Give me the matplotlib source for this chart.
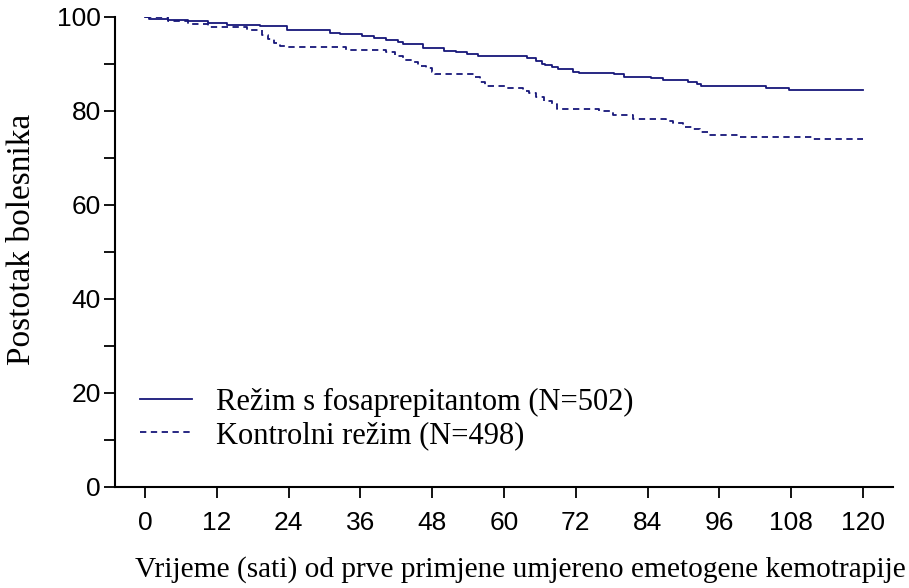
import matplotlib
matplotlib.use("Agg")
import matplotlib.pyplot as plt

# ---- data ----
t_fos = [0, 0.6, 3.9, 7.2, 10.5, 13.7, 19.2, 23.7, 31, 32.6, 36.3, 38.2, 40.2, 42.3, 43.2,
         46.5, 49.9, 51.9, 53.9, 55.7, 63.9, 65.3, 66.4, 66.9, 68.1, 69.1, 71.6, 72.5, 78.3,
         80, 84.5, 86.5, 90.7, 92.3, 92.9, 103.8, 107.6, 120]
s_fos = [100, 99.5, 99.3, 99.1, 98.8, 98.4, 98.0, 97.2, 96.7, 96.4, 95.9, 95.5, 95.2, 94.7, 94.2,
         93.3, 92.8, 92.5, 92.1, 91.6, 91.2, 90.7, 90.1, 89.7, 89.3, 88.9, 88.4, 88.1, 87.8,
         87.3, 87.0, 86.5, 86.2, 85.7, 85.4, 85.0, 84.5, 84.5]

t_ctl = [0, 3.9, 7.2, 10.5, 17, 19.5, 20.5, 21.5, 22.5, 23.7, 33.6, 40.2, 41.8, 43.2, 44.9,
         45.7, 47, 47.9, 48.5, 55, 56, 56.9, 60.2, 63.1, 64.2, 65.3, 66.7, 68.1, 68.9, 75.9,
         78.2, 81.5, 87.1, 88.2, 89.9, 91.6, 92.7, 94.1, 99.1, 111.6, 120]
s_ctl = [100, 99.1, 98.6, 97.8, 97.3, 96.2, 95.3, 94.5, 93.9, 93.6, 93.0, 92.6, 91.6, 90.9, 90.4,
         89.6, 89.2, 88.4, 87.9, 87.3, 86.2, 85.4, 84.8, 84.3, 83.8, 83.0, 82.2, 81.5, 80.4, 79.9,
         79.1, 78.4, 77.9, 77.4, 76.7, 76.1, 75.6, 74.9, 74.4, 74.0, 74.0]

labels = ["Režim s fosaprepitantom (N=502)", "Kontrolni režim (N=498)"]
x_ticks = list(range(0, 121, 12))
y_ticks = [0, 20, 40, 60, 80, 100]
y_minor = [10, 30, 50, 70, 90]
xlabel = "Vrijeme (sati) od prve primjene umjereno emetogene kemotrapije"
ylabel = "Postotak bolesnika"

navy = "#17177a"

fig = plt.figure(figsize=(9.09, 5.88), dpi=100)
W, H = 909, 588
ax = fig.add_axes([115 / W, (H - 487) / H, 778 / W, 470 / H])

ax.step(t_fos, s_fos, where="post", color=navy, lw=1.3, label=labels[0])
ax.step(t_ctl, s_ctl, where="post", color=navy, lw=1.3, dashes=(3.5, 2.5), label=labels[1])

ax.set_xlim(-5, 125)
ax.set_ylim(0, 100)
for s in ["top", "right"]:
    ax.spines[s].set_visible(False)
for s in ["left", "bottom"]:
    ax.spines[s].set_linewidth(1.5)

ax.set_xticks(x_ticks)
ax.set_yticks(y_ticks)
ax.set_yticks(y_minor, minor=True)
ax.tick_params(axis="both", which="both", direction="out", length=8, width=1.3,
               labelsize=19)
ax.tick_params(axis="y", pad=2)
ax.tick_params(axis="x", pad=9)
for lab in ax.get_xticklabels() + ax.get_yticklabels():
    lab.set_fontfamily("Liberation Sans")

fig.text(22 / W, 1 - 239 / H, ylabel, rotation=90, ha="center", va="center",
         fontsize=24, family="Liberation Serif")
fig.text(135 / W, 1 - 570 / H, xlabel, ha="left", va="center",
         fontsize=21.2, family="Liberation Serif")

leg = ax.legend(loc="upper left", bbox_to_anchor=((140 - 115) / 778, (487 - 388) / 470),
                frameon=False, borderpad=0, borderaxespad=0, handlelength=1.7,
                handletextpad=0.8, labelspacing=0.12,
                prop={"family": "Liberation Serif", "size": 22})

fig.savefig("out.png", dpi=100)
